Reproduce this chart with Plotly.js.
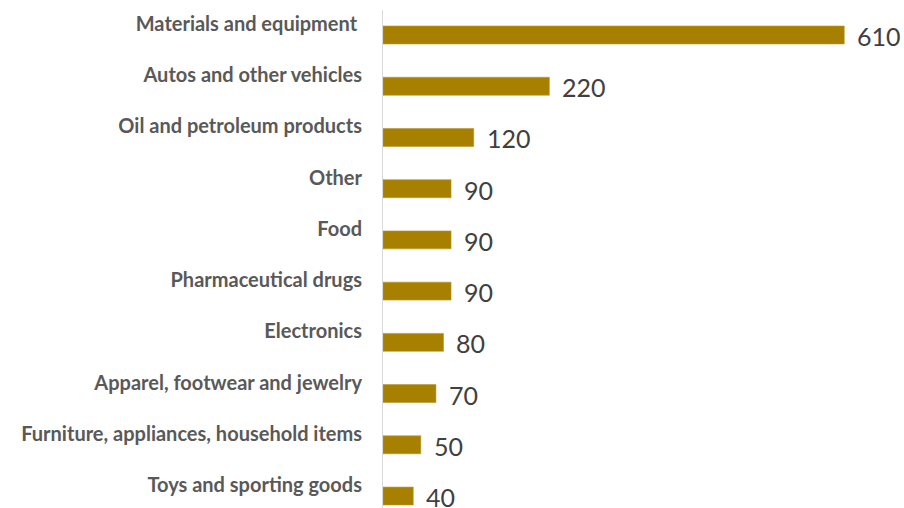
<!DOCTYPE html>
<html>
<head>
<meta charset="utf-8">
<script src="https://cdn.plot.ly/plotly-3.0.1.min.js"></script>
<style>html,body{margin:0;padding:0;background:#fff;}#chart{width:904px;height:508px;}</style>
</head>
<body>
<div id="chart"></div>
<script>
const categories = [
  "Materials and equipment\u00a0",
  "Autos and other vehicles",
  "Oil and petroleum products",
  "Other",
  "Food",
  "Pharmaceutical drugs",
  "Electronics",
  "Apparel, footwear and jewelry",
  "Furniture, appliances, household items",
  "Toys and sporting goods"
];
const values = [610, 220, 120, 90, 90, 90, 80, 70, 50, 40];
const valueLabels = ["610", "220", "120", "90", "90", "90", "80", "70", "50", "40"];

const trace = {
  type: 'bar',
  orientation: 'h',
  x: values,
  y: categories,
  marker: {color: '#A88000', line: {color: '#B8952A', width: 0.6}},
  hoverinfo: 'none'
};

const annotations = values.map((v, i) => ({
  x: v, y: categories[i], xref: 'x', yref: 'y',
  text: valueLabels[i], showarrow: false,
  xanchor: 'left', yanchor: 'middle', xshift: 11, yshift: -1,
  font: {family: 'Lato, "Open Sans", sans-serif', size: 25, color: '#404040'}
}));

const layout = {
  width: 904, height: 508,
  margin: {l: 383, r: 0, t: 10, b: 0, pad: 0},
  paper_bgcolor: '#ffffff', plot_bgcolor: '#ffffff',
  showlegend: false,
  bargap: 0.65,
  xaxis: {range: [0, 689], showgrid: false, zeroline: false, showline: false,
          showticklabels: false, ticks: '', fixedrange: true},
  yaxis: {type: 'category', range: [9.234, -0.488], showgrid: false, zeroline: false,
          showline: true, linecolor: '#D9D9D9', linewidth: 1, ticks: '',
          ticklabelstandoff: 16, ticklabelshift: 11,
          tickfont: {family: 'Lato, "Open Sans", sans-serif', size: 20, color: '#595959', weight: 'bold'},
          fixedrange: true},
  annotations: annotations
};

Plotly.newPlot('chart', [trace], layout, {displayModeBar: false, staticPlot: true});
</script>
</body>
</html>
